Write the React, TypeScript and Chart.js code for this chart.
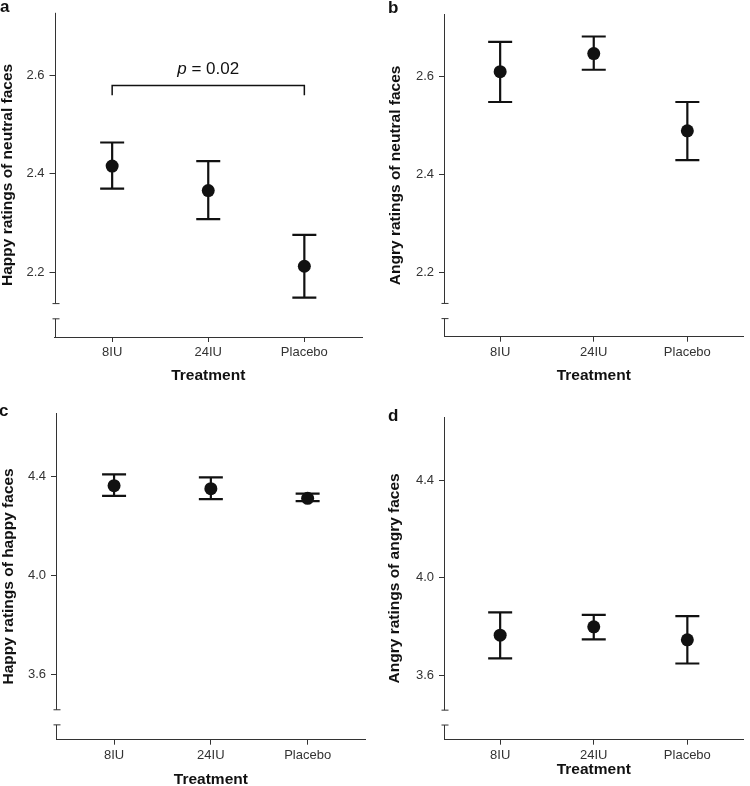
import React, { useEffect, useRef } from 'react';
import { Chart, registerables } from 'chart.js';

Chart.register(...registerables);

// ---------- data ----------
const categories = ['8IU', '24IU', 'Placebo'];

const happyNeutralMean = [2.416, 2.366, 2.212];
const happyNeutralUpper = [2.464, 2.426, 2.276];
const happyNeutralLower = [2.37, 2.308, 2.148];

const angryNeutralMean = [2.61, 2.647, 2.489];
const angryNeutralUpper = [2.671, 2.682, 2.548];
const angryNeutralLower = [2.548, 2.614, 2.429];

const happyHappyMean = [4.364, 4.352, 4.313];
const happyHappyUpper = [4.41, 4.398, 4.332];
const happyHappyLower = [4.323, 4.31, 4.302];

const angryAngryMean = [3.765, 3.799, 3.746];
const angryAngryUpper = [3.858, 3.848, 3.843];
const angryAngryLower = [3.67, 3.748, 3.649];

const neutralTicks = [2.2, 2.4, 2.6];
const emotionalTicks = [3.6, 4.0, 4.4];
const neutralRange = [2.068, 2.728];
const neutralBreak = [2.105, 2.136];
const emotionalRange = [3.337, 4.658];
const emotionalBreak = [3.397, 3.458];

const bracketLevels = [2.56, 2.58];
const pValue = '0.02';

// ---------- styles ----------
const FONT = "'Liberation Sans', Arial, Helvetica, sans-serif";
const INK = '#111111';
const AXIS = '#333333';
const W = 375;
const H = 393;

type PanelCfg = {
  label: string;
  left: number;
  top: number;
  area: { left: number; right: number; top: number; bottom: number };
  yTitle: string;
  yTitlePad: number;
  xTitlePad: number;
  labelPos: [number, number];
  mean: number[];
  upper: number[];
  lower: number[];
  ticks: number[];
  range: number[];
  brk: number[];
  bracket?: boolean;
};

const panels: PanelCfg[] = [
  {
    label: 'a', left: 0, top: 0,
    area: { left: 54.5, right: 362, top: 12, bottom: 337 },
    yTitle: 'Happy ratings of neutral faces', yTitlePad: 0.25, xTitlePad: 9.25,
    labelPos: [0, 12],
    mean: happyNeutralMean, upper: happyNeutralUpper, lower: happyNeutralLower,
    ticks: neutralTicks, range: neutralRange, brk: neutralBreak, bracket: true,
  },
  {
    label: 'b', left: 375, top: 0,
    area: { left: 69, right: 375, top: 14, bottom: 336.7 },
    yTitle: 'Angry ratings of neutral faces', yTitlePad: 13.25, xTitlePad: 9.25,
    labelPos: [13, 13.3],
    mean: angryNeutralMean, upper: angryNeutralUpper, lower: angryNeutralLower,
    ticks: neutralTicks, range: neutralRange, brk: neutralBreak,
  },
  {
    label: 'c', left: 0, top: 393,
    area: { left: 56, right: 365.7, top: 20, bottom: 346.7 },
    yTitle: 'Happy ratings of happy faces', yTitlePad: 0.5, xTitlePad: -1.45,
    labelPos: [-1, 23.3],
    mean: happyHappyMean, upper: happyHappyUpper, lower: happyHappyLower,
    ticks: emotionalTicks, range: emotionalRange, brk: emotionalBreak,
  },
  {
    label: 'd', left: 375, top: 393,
    area: { left: 69, right: 375, top: 24, bottom: 346.7 },
    yTitle: 'Angry ratings of angry faces', yTitlePad: 11.5, xTitlePad: 8.5,
    labelPos: [13, 28.3],
    mean: angryAngryMean, upper: angryAngryUpper, lower: angryAngryLower,
    ticks: emotionalTicks, range: emotionalRange, brk: emotionalBreak,
  },
];

function Panel({ cfg }: { cfg: PanelCfg }) {
  const ref = useRef<HTMLCanvasElement | null>(null);

  useEffect(() => {
    if (!ref.current) return;

    const decorPlugin = {
      id: 'decor' + cfg.label,
      beforeDatasetsDraw(chart: any) {
        const { ctx, chartArea, scales } = chart;
        const xs = scales.x;
        const ys = scales.y;
        ctx.save();
        // broken y axis
        ctx.strokeStyle = AXIS;
        ctx.lineWidth = 1;
        const ax = Math.round(chartArea.left) + 0.5;
        const yHi = ys.getPixelForValue(cfg.brk[1]);
        const yLo = ys.getPixelForValue(cfg.brk[0]);
        ctx.beginPath();
        ctx.moveTo(ax, chartArea.top);
        ctx.lineTo(ax, yHi);
        ctx.moveTo(ax - 3, yHi);
        ctx.lineTo(ax + 4, yHi);
        ctx.moveTo(ax - 3, yLo);
        ctx.lineTo(ax + 4, yLo);
        ctx.moveTo(ax, yLo);
        ctx.lineTo(ax, chartArea.bottom);
        ctx.stroke();

        // error bars
        ctx.strokeStyle = INK;
        ctx.lineWidth = 2.2;
        cfg.mean.forEach((_, i) => {
          const px = xs.getPixelForValue(i);
          const pu = ys.getPixelForValue(cfg.upper[i]);
          const pl = ys.getPixelForValue(cfg.lower[i]);
          ctx.beginPath();
          ctx.moveTo(px, pu);
          ctx.lineTo(px, pl);
          ctx.moveTo(px - 12, pu);
          ctx.lineTo(px + 12, pu);
          ctx.moveTo(px - 12, pl);
          ctx.lineTo(px + 12, pl);
          ctx.stroke();
        });

        // significance bracket
        if (cfg.bracket) {
          const x0 = xs.getPixelForValue(0);
          const x2 = xs.getPixelForValue(2);
          const yTop = ys.getPixelForValue(bracketLevels[1]);
          const yBot = ys.getPixelForValue(bracketLevels[0]);
          ctx.strokeStyle = INK;
          ctx.lineWidth = 1.5;
          ctx.beginPath();
          ctx.moveTo(x0, yBot);
          ctx.lineTo(x0, yTop);
          ctx.lineTo(x2, yTop);
          ctx.lineTo(x2, yBot);
          ctx.stroke();

          const cx = (x0 + x2) / 2;
          const ty = yTop - 16;
          const italic = `italic 17px ${FONT}`;
          const normal = `17px ${FONT}`;
          const rest = ' = ' + pValue;
          ctx.font = italic;
          const wP = ctx.measureText('p').width;
          ctx.font = normal;
          const wR = ctx.measureText(rest).width;
          const start = cx - (wP + wR) / 2;
          ctx.fillStyle = INK;
          ctx.textBaseline = 'middle';
          ctx.textAlign = 'left';
          ctx.font = italic;
          ctx.fillText('p', start, ty);
          ctx.font = normal;
          ctx.fillText(rest, start + wP, ty);
        }
        ctx.restore();
      },
      afterDraw(chart: any) {
        const { ctx } = chart;
        ctx.save();
        ctx.fillStyle = INK;
        ctx.font = `bold 17px ${FONT}`;
        ctx.textAlign = 'left';
        ctx.textBaseline = 'alphabetic';
        ctx.fillText(cfg.label, cfg.labelPos[0], cfg.labelPos[1]);
        ctx.restore();
      },
    };

    const chart = new Chart(ref.current, {
      type: 'scatter',
      data: {
        datasets: [
          {
            data: cfg.mean.map((y, i) => ({ x: i, y })),
            pointRadius: 6.5,
            pointHoverRadius: 6.5,
            pointBackgroundColor: INK,
            pointBorderColor: INK,
            pointBorderWidth: 0,
            showLine: false,
          },
        ],
      },
      options: {
        animation: false,
        responsive: false,
        maintainAspectRatio: false,
        devicePixelRatio: 1,
        events: [],
        layout: {
          padding: { left: 0, top: cfg.area.top, right: W - cfg.area.right, bottom: 0 },
        },
        plugins: {
          legend: { display: false },
          tooltip: { enabled: false },
        },
        scales: {
          x: {
            type: 'linear',
            position: 'bottom',
            min: -0.6,
            max: 2.6,
            afterBuildTicks: (s: any) => {
              s.ticks = categories.map((_, i) => ({ value: i }));
            },
            afterFit: (s: any) => {
              s.height = H - cfg.area.bottom;
            },
            ticks: {
              autoSkip: false,
              maxRotation: 0,
              padding: 3,
              color: AXIS,
              font: { family: FONT, size: 13 },
              callback: (v: any) => categories[v as number] ?? '',
            },
            grid: {
              display: true,
              drawOnChartArea: false,
              drawTicks: true,
              tickLength: 5,
              color: AXIS,
              lineWidth: 1,
            },
            border: { display: true, color: AXIS, width: 1 },
            title: {
              display: true,
              text: 'Treatment',
              color: INK,
              font: { family: FONT, size: 15.5, weight: 'bold', lineHeight: 1 },
              padding: { top: 0, bottom: cfg.xTitlePad },
            },
          },
          y: {
            type: 'linear',
            position: 'left',
            min: cfg.range[0],
            max: cfg.range[1],
            afterBuildTicks: (s: any) => {
              s.ticks = cfg.ticks.map((v) => ({ value: v }));
            },
            afterFit: (s: any) => {
              s.width = cfg.area.left;
            },
            ticks: {
              padding: 5,
              color: AXIS,
              font: { family: FONT, size: 13 },
              callback: (v: any) => Number(v).toFixed(1),
            },
            grid: {
              display: true,
              drawOnChartArea: false,
              drawTicks: true,
              tickLength: 5,
              color: AXIS,
              lineWidth: 1,
            },
            border: { display: false },
            title: {
              display: true,
              text: cfg.yTitle,
              color: INK,
              font: { family: FONT, size: 15.5, weight: 'bold', lineHeight: 1 },
              padding: { top: cfg.yTitlePad, bottom: 0 },
            },
          },
        },
      } as any,
      plugins: [decorPlugin],
    });

    return () => chart.destroy();
  }, [cfg]);

  return (
    <canvas
      ref={ref}
      width={W}
      height={H}
      style={{ position: 'absolute', left: cfg.left, top: cfg.top, width: W, height: H }}
    />
  );
}

export default function App() {
  return (
    <div
      style={{
        position: 'absolute',
        left: 0,
        top: 0,
        width: 750,
        height: 786,
        background: '#ffffff',
        overflow: 'hidden',
      }}
    >
      {panels.map((p) => (
        <Panel key={p.label} cfg={p} />
      ))}
    </div>
  );
}
